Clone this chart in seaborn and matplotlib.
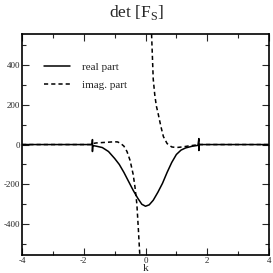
import matplotlib
matplotlib.use("Agg")
import matplotlib.pyplot as plt
import seaborn as sns
from matplotlib.lines import Line2D
from matplotlib.ticker import MultipleLocator

# real part of det[F_S] (spikes at k = -1.72 and 1.73)
k_real = [-4.0, -1.73, -1.72, -1.72, -1.71, -1.6, -1.4, -1.2, -1.0, -0.85, -0.7, -0.55,
          -0.4, -0.25, -0.12, 0.0, 0.12, 0.25, 0.4, 0.55, 0.7, 0.85, 1.0, 1.15, 1.3,
          1.5, 1.7, 1.73, 1.73, 1.74, 4.0]
re_part = [0, 0, 25, -35, -5, -8, -15, -35, -70, -100, -140, -185,
           -230, -270, -300, -310, -303, -280, -240, -195, -140, -90, -50, -28, -17,
           -9, -4, 30, -30, 0, 0]

# imaginary part, left branch (k < 0) and right branch (k > 0)
k_imag_left = [-4.0, -1.73, -1.72, -1.6, -1.4, -1.2, -1.0, -0.9, -0.8, -0.7, -0.6, -0.5,
               -0.4, -0.34, -0.28, -0.23, -0.18, -0.15]
im_left = [0, 0, 5, 8, 10, 12, 14, 13, 5, -8, -35, -80,
           -150, -215, -300, -430, -570, -700]
k_imag_right = [0.17, 0.2, 0.25, 0.3, 0.35, 0.41, 0.5, 0.58, 0.7, 0.85, 1.0, 1.2,
                1.4, 1.6, 1.73, 4.0]
im_right = [700, 540, 330, 250, 195, 155, 90, 40, 5, -12, -15, -12,
            -7, -3, 0, 0]

sns.set_style("ticks")
plt.rcParams["font.family"] = ["Liberation Serif", "DejaVu Serif"]
plt.rcParams["mathtext.fontset"] = "custom"
plt.rcParams["mathtext.rm"] = "Liberation Serif"
plt.rcParams["lines.scale_dashes"] = False
plt.rcParams["axes.unicode_minus"] = False

fig = plt.figure(figsize=(2.73, 2.73), dpi=100)
ax = fig.add_axes([0.081, 0.066, 0.904, 0.809])

dash = (0, (3.0, 2.2))
sns.lineplot(x=k_real, y=re_part, sort=False, estimator=None, color="black", lw=1.1, ax=ax)
sns.lineplot(x=k_imag_left, y=im_left, sort=False, estimator=None, color="black", lw=1.1,
             linestyle=dash, ax=ax)
sns.lineplot(x=k_imag_right, y=im_right, sort=False, estimator=None, color="black", lw=1.1,
             linestyle=dash, ax=ax)

ax.set_xlim(-4, 4)
ax.set_ylim(-555, 555)
ax.xaxis.set_major_locator(MultipleLocator(2))
ax.xaxis.set_minor_locator(MultipleLocator(1))
ax.yaxis.set_major_locator(MultipleLocator(200))
ax.yaxis.set_minor_locator(MultipleLocator(100))
ax.tick_params(which="both", direction="in", top=True, right=True, labelsize=6.5, pad=1.5)
ax.tick_params(which="major", length=5, width=0.8)
ax.tick_params(which="minor", length=3, width=0.8)
for s in ax.spines.values():
    s.set_linewidth(1.2)
    s.set_color("black")

ax.set_xlabel("k", fontsize=8, labelpad=-1)
fig.suptitle(r"det [F$_{\mathrm{S}}$]", fontsize=12.5, y=0.99)

handles = [Line2D([], [], color="black", lw=1.1),
           Line2D([], [], color="black", lw=1.1, linestyle=dash)]
ax.legend(handles, ["real part", "imag. part"], loc="upper left", frameon=False,
          fontsize=8, handlelength=2.3, handletextpad=1.1, labelspacing=0.75,
          bbox_to_anchor=(0.05, 0.92))

fig.savefig("out.png", dpi=100)
